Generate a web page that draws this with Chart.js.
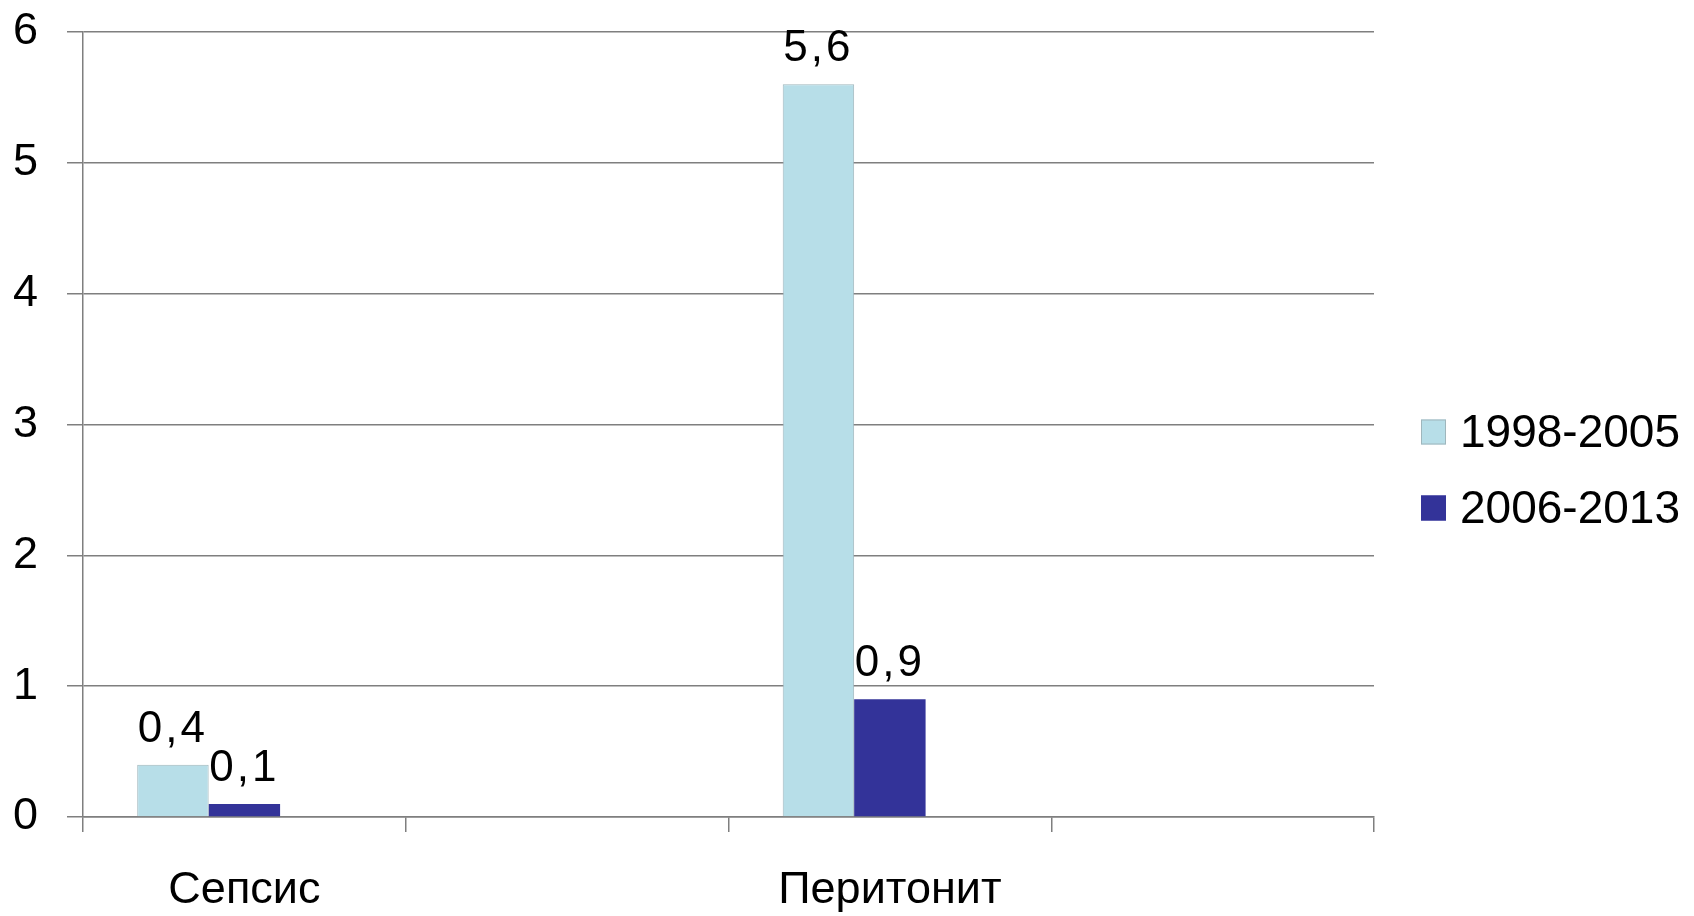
<!DOCTYPE html>
<html>
<head>
<meta charset="utf-8">
<script src="https://cdn.jsdelivr.net/npm/chart.js@4/dist/chart.umd.min.js"></script>
<style>
  html, body { margin: 0; padding: 0; background: #fff; }
  #wrap { width: 1694px; height: 916px; }
</style>
</head>
<body>
<div id="wrap"><canvas id="barChart"></canvas></div>
<script>
/* DATA */
const categories = ['Сепсис', '', 'Перитонит', ''];
const seriesLabels = ['1998-2005', '2006-2013'];
const values1998 = [0.4, null, 5.6, null];
const values2006 = [0.1, null, 0.9, null];
const emptySeries = [null, null, null, null]; // third (empty) column slot as in the original
const yMin = 0;
const yMax = 6;
const yStep = 1;

const colorLight = '#B7DEE8';
const colorDark = '#333399';
const gridColor = '#7f7f7f';
const fontFamily = '"Liberation Sans", Arial, sans-serif';

// value labels above bars, comma decimal
const valueLabels = {
    id: 'valueLabels',
    afterDatasetsDraw(chart) {
        const ctx = chart.ctx;
        ctx.save();
        ctx.font = '44px ' + fontFamily;
        ctx.fillStyle = '#000';
        ctx.textAlign = 'center';
        ctx.textBaseline = 'alphabetic';
        try { ctx.letterSpacing = '3px'; } catch (e) {}
        [0, 1].forEach(i => {
            const meta = chart.getDatasetMeta(i);
            meta.data.forEach((bar, j) => {
                const v = chart.data.datasets[i].data[j];
                if (v === null) return;
                const txt = String(v).replace('.', ',');
                ctx.fillText(txt, bar.x, bar.y - 23);
            });
        });
        ctx.restore();
    }
};

// legend on the right
const sideLegend = {
    id: 'sideLegend',
    afterDraw(chart) {
        const ctx = chart.ctx;
        const area = chart.chartArea;
        const x = area.right + 47;
        const y0 = 432;
        const step = 76;
        ctx.save();
        ctx.font = '46px ' + fontFamily;
        ctx.textBaseline = 'middle';
        ctx.textAlign = 'left';
        seriesLabels.forEach((lbl, i) => {
            const ds = chart.data.datasets[i];
            const cy = y0 + i * step;
            ctx.fillStyle = ds.backgroundColor;
            ctx.fillRect(x, cy - 12.5, 25, 25);
            ctx.strokeStyle = ds.borderColor;
            ctx.lineWidth = 1;
            ctx.strokeRect(x + 0.5, cy - 12, 24, 24);
            ctx.fillStyle = '#000';
            ctx.fillText(lbl, x + 39, cy + 2);
        });
        ctx.restore();
    }
};

function createBarChart() {
    const ctx = document.getElementById('barChart').getContext('2d');
    return new Chart(ctx, {
        type: 'bar',
        data: {
            labels: categories,
            datasets: [
                {
                    label: seriesLabels[0],
                    data: values1998,
                    backgroundColor: colorLight,
                    borderColor: '#9fb6bc',
                    borderWidth: 1,
                },
                {
                    label: seriesLabels[1],
                    data: values2006,
                    backgroundColor: colorDark,
                    borderColor: colorDark,
                    borderWidth: 0,
                },
                {
                    label: '',
                    data: emptySeries,
                    backgroundColor: 'transparent',
                },
            ],
        },
        options: {
            responsive: true,
            maintainAspectRatio: false,
            animation: false,
            datasets: {
                bar: {
                    barPercentage: 1,
                    categoryPercentage: 0.664,
                },
            },
            layout: {
                padding: { top: 32, right: 320, left: 0, bottom: 0 },
            },
            scales: {
                x: {
                    offset: true,
                    afterFit: (scale) => { scale.height = 99; },
                    border: { display: true, color: gridColor, width: 1.5 },
                    grid: {
                        offset: true,
                        drawOnChartArea: false,
                        drawTicks: true,
                        tickLength: 15,
                        color: gridColor,
                        lineWidth: 1.5,
                    },
                    ticks: {
                        color: '#000',
                        padding: 32,
                        maxRotation: 0,
                        autoSkip: false,
                        font: { family: fontFamily, size: 45 },
                    },
                },
                y: {
                    min: yMin,
                    max: yMax,
                    afterFit: (scale) => {
                        scale.width = 83;
                        scale.paddingTop = 0;
                        scale.paddingBottom = 0;
                    },
                    border: { display: true, color: gridColor, width: 1.5 },
                    grid: {
                        color: gridColor,
                        lineWidth: 1.5,
                        drawTicks: true,
                        tickLength: 16,
                    },
                    ticks: {
                        stepSize: yStep,
                        color: '#000',
                        padding: 29,
                        font: { family: fontFamily, size: 45 },
                    },
                },
            },
            plugins: {
                legend: { display: false },
                tooltip: { enabled: false },
            },
        },
        plugins: [valueLabels, sideLegend],
    });
}

createBarChart();
</script>
</body>
</html>
